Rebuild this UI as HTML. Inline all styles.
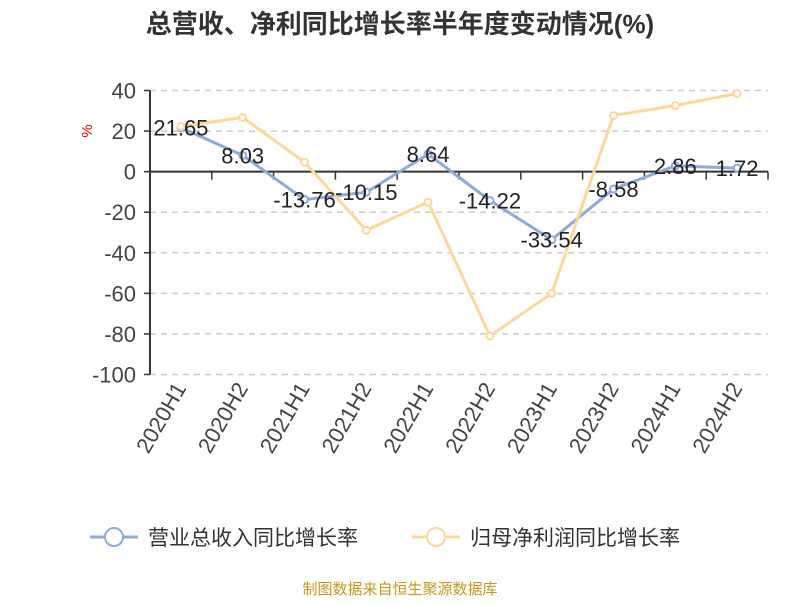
<!DOCTYPE html>
<html><head><meta charset="utf-8"><style>
body{margin:0;background:#fff}
svg{font-family:"Liberation Sans","Noto Sans CJK SC",sans-serif}
</style></head><body>
<svg id="c" width="800" height="600">
<text x="400" y="33" text-anchor="middle" font-size="26" font-weight="bold" fill="#333">总营收、净利同比增长率半年度变动情况(%)</text>
<text x="92" y="131" font-size="15" fill="#e00" transform="rotate(-90 92 131)" text-anchor="middle">%</text>
<g id="grid"></g><g id="axes"></g><g id="series"></g>
<g>
<g><line x1="90" y1="537" x2="138" y2="537" stroke="#8eaadb" stroke-width="3"/><circle cx="114" cy="537" r="9" fill="#fff" stroke="#8eaadb" stroke-width="2"/><text x="148" y="545" font-size="21" fill="#333">营业总收入同比增长率</text></g>
<g><line x1="412" y1="537" x2="460" y2="537" stroke="#fdd89a" stroke-width="3"/><circle cx="436" cy="537" r="9" fill="#fff" stroke="#fdd89a" stroke-width="2"/><text x="470" y="545" font-size="21" fill="#333">归母净利润同比增长率</text></g>
</g>
<text x="400" y="594" text-anchor="middle" font-size="15" fill="#c8961e">制图数据来自恒生聚源数据库</text>
</svg>
<script>
const categories=["2020H1","2020H2","2021H1","2021H2","2022H1","2022H2","2023H1","2023H2","2024H1","2024H2"];
const revenue=[21.65,8.03,-13.76,-10.15,8.64,-14.22,-33.54,-8.58,2.86,1.72];
const profit=[22.3,26.7,4.7,-28.9,-15,-81,-60,27.7,32.6,38.5];
const yTicks=[40,20,0,-20,-40,-60,-80,-100];
const NS="http://www.w3.org/2000/svg";
const x0=150,x1=768,yTop=90.5,yBot=374.5,yMax=40,yMin=-100;
const bw=(x1-x0)/categories.length;
const X=i=>x0+bw*(i+0.5);
const Y=v=>yTop+(yMax-v)/(yMax-yMin)*(yBot-yTop);
function mk(p,t,a){const e=document.createElementNS(NS,t);for(const k in a)e.setAttribute(k,a[k]);p.appendChild(e);return e;}
const grid=document.getElementById('grid'),axes=document.getElementById('axes'),ser=document.getElementById('series');
yTicks.forEach(v=>{
 if(v!==0){const l=mk(grid,'line',{x1:x0,x2:x1,y1:Y(v),y2:Y(v),stroke:'#ccc','stroke-dasharray':'6,5','stroke-width':1.5});
 
 }
 mk(axes,'line',{x1:x0-6,x2:x0,y1:Y(v),y2:Y(v),stroke:'#333','stroke-width':1.5});
 const t=mk(axes,'text',{x:x0-14,y:Y(v)+8,'text-anchor':'end','font-size':22,fill:'#444'});t.textContent=v;
 
 
});
mk(axes,'line',{x1:x0,x2:x0,y1:yTop,y2:yBot,stroke:'#333','stroke-width':2});
mk(axes,'line',{x1:x0,x2:x1,y1:Y(0),y2:Y(0),stroke:'#333','stroke-width':2});
categories.forEach((c,i)=>{
 const tx=x0+bw*(i+1);
 mk(axes,'line',{x1:tx,x2:tx,y1:Y(0),y2:Y(0)+8,stroke:'#333','stroke-width':1.5});
 const t=mk(axes,'text',{x:X(i)+6,y:388,'text-anchor':'end','font-size':22,fill:'#444',transform:`rotate(-60 ${X(i)+6} 388)`});t.textContent=c;
 
 
});
function line(data,color,name){
 const g=mk(ser,'g',{});
 
 
 mk(g,'polyline',{points:data.map((v,i)=>X(i)+','+Y(v)).join(' '),fill:'none',stroke:color,'stroke-width':3});
 data.forEach((v,i)=>{const c=mk(g,'circle',{cx:X(i),cy:Y(v),r:3.5,fill:'#fff',stroke:color,'stroke-width':2});
  
  
 });
}
line(revenue,'#8eaadb','series-revenue');
line(profit,'#fdd89a','series-profit');
revenue.forEach((v,i)=>{const t=mk(ser,'text',{x:X(i),y:Y(v)+8,'text-anchor':'middle','font-size':22,fill:'#222'});t.textContent=v;
 
 });
</script>
</body></html>
